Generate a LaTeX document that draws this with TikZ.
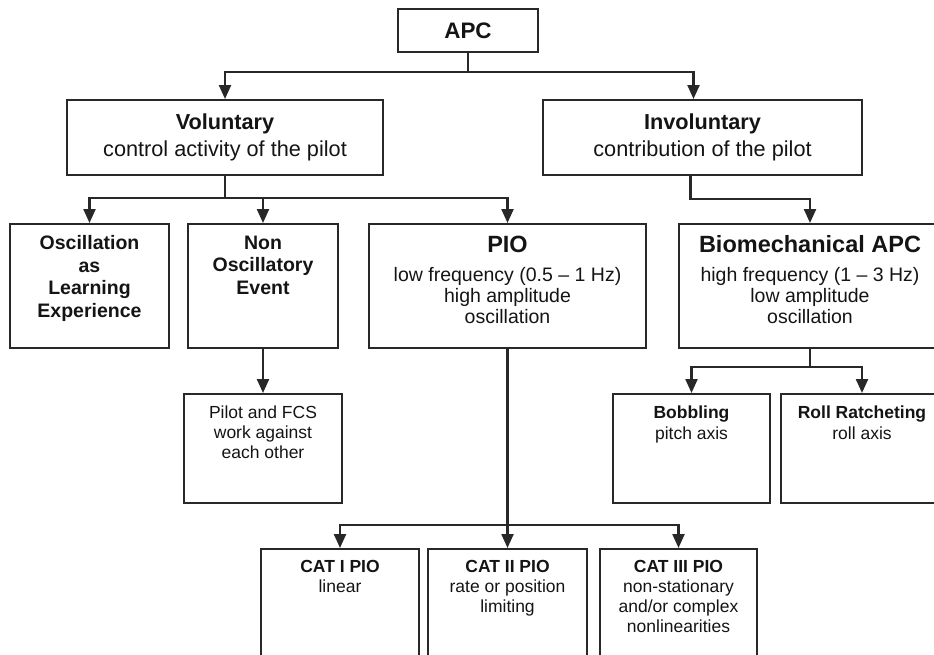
\documentclass[tikz,border=0pt]{standalone}
\usepackage{fontspec}
\setmainfont{Liberation Sans}
\usepackage{tikz}
\usetikzlibrary{arrows.meta,positioning,calc}
\definecolor{lnc}{RGB}{40,40,40}
\definecolor{txc}{RGB}{20,20,20}
\newcommand{\fs}[2]{\fontsize{#1}{#2}\selectfont}
% box with its text hung from the top edge
\newcommand{\tbox}[7]{%
  \node[blk, minimum width=#4pt, minimum height=#5pt, anchor=north] (#1) at (#2,#3) {};
  \node[btxt, font={#6}] (#1-txt) at ([yshift=-12.5pt]#1.north) {#7};}
\tikzset{
  blk/.style={draw=lnc, line width=2.1pt, rectangle, inner sep=0pt},
  btxt/.style={align=center, inner sep=0pt, text=txc, anchor=north},
  ctxt/.style={align=center, text=txc},
  arr/.style={draw=lnc, line width=2.3pt, -{Triangle[length=14pt, width=12pt]}},
  ln/.style={draw=lnc, line width=2.3pt},
}

\begin{document}
\begin{tikzpicture}[x=1pt, y=-1pt]
\clip (0,0) rectangle (934,654);
% top levels
\node[blk, ctxt, minimum width=140pt, minimum height=43pt, anchor=north, font=\fs{22.4}{24}\bfseries] (apc) at (468,8) {APC};
\node[blk, ctxt, minimum width=316pt, minimum height=75pt, anchor=north, font=\fs{21.7}{27}] (vol) at (225,99) {{\bfseries Voluntary}\\control activity of the pilot};
\node[blk, ctxt, minimum width=319pt, minimum height=75pt, anchor=north, font=\fs{21.7}{27}] (inv) at (702.5,99) {{\bfseries Involuntary}\\contribution of the pilot};
% second row
\tbox{osc}{89.5}{223}{159}{124}{\fs{19.5}{22.5}\bfseries}{Oscillation\\as\\Learning\\Experience}
\tbox{nonosc}{263}{223}{150}{124}{\fs{19.5}{22.5}\bfseries}{Non\\Oscillatory\\Event}
\tbox{pio}{507.5}{223}{277}{124}{\fs{19.5}{21}}{{\fs{23.5}{24}\bfseries PIO}\\[8pt]low frequency (0.5 \textendash{} 1 Hz)\\high amplitude\\oscillation}
\tbox{bio}{810}{223}{262}{124}{\fs{19.5}{21}}{{\fs{23.5}{24}\bfseries Biomechanical APC}\\[8pt]high frequency (1 \textendash{} 3 Hz)\\low amplitude\\oscillation}
% third row
\tbox{pilot}{263}{393}{158}{109}{\fs{17.5}{20}}{Pilot and FCS\\work against\\each other}
\tbox{bob}{691.5}{393}{157}{109}{\fs{17.5}{21.5}}{{\bfseries Bobbling}\\pitch axis}
\tbox{roll}{862}{393}{162}{109}{\fs{17.5}{21.5}}{{\bfseries Roll Ratcheting}\\roll axis}
% bottom row
\tbox{cat1}{340}{548}{158}{110}{\fs{17.5}{20}}{{\bfseries CAT I PIO}\\linear}
\tbox{cat2}{507.5}{548}{159}{110}{\fs{17.5}{20}}{{\bfseries CAT II PIO}\\rate or position\\limiting}
\tbox{cat3}{678.5}{548}{157}{110}{\fs{17.5}{20}}{{\bfseries CAT III PIO}\\non-stationary\\and/or complex\\nonlinearities}
% connectors, each stem drawn once
\draw[ln] (apc.south) -- ++(0,19) coordinate (apc-b);
\draw[arr] (apc-b) -| (vol.north);
\draw[arr] (apc-b) -| ([xshift=-9pt]inv.north);
\draw[ln] (vol.south) -- ++(0,22) coordinate (vol-b);
\draw[arr] (vol-b) -| (osc.north);
\draw[arr] (vol-b) -| (nonosc.north);
\draw[arr] (vol-b) -| (pio.north);
\draw[arr] ([xshift=-12pt]inv.south) -- ++(0,23) -| (bio.north);
\draw[arr] (nonosc.south) -- (pilot.north);
\draw[ln] (bio.south) -- ++(0,18) coordinate (bio-b);
\draw[arr] (bio-b) -| (bob.north);
\draw[arr] (bio-b) -| (roll.north);
\draw[ln] (pio.south) -- ++(0,176) coordinate (pio-b);
\draw[arr] (pio-b) -| (cat1.north);
\draw[arr] (pio-b) -- (cat2.north);
\draw[arr] (pio-b) -| (cat3.north);
\end{tikzpicture}
\end{document}
